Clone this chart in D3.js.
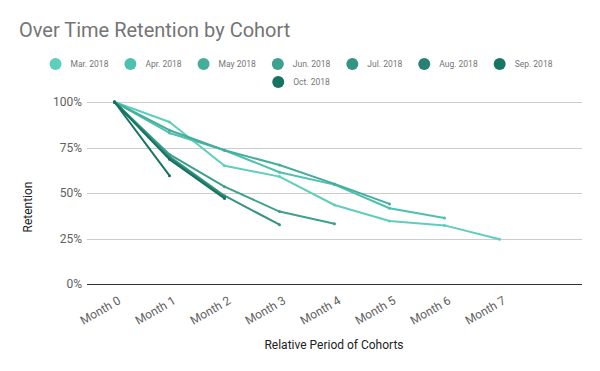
<!DOCTYPE html>
<meta charset="utf-8">
<head>
  <title>Over Time Retention by Cohort</title>
</head>

<style>
body {
  margin: 0;
  font-family: Roboto, "Noto Sans", sans-serif;
  background: #fff;
}

.title {
  font-size: 20px;
  fill: #757575;
}

.legend text {
  font-size: 8.5px;
  fill: #757575;
}

.grid line {
  stroke: #cccccc;
  stroke-width: 1;
}

.baseline {
  stroke: #333;
  stroke-width: 1;
}

.tick-label {
  font-size: 12px;
  fill: #616161;
}

.axis-title {
  font-size: 12px;
  fill: #222;
}

.series path {
  fill: none;
  stroke-width: 2;
  stroke-linejoin: round;
}
</style>

<body>
  <svg width="600" height="371"></svg>

  <script src="https://cdnjs.cloudflare.com/ajax/libs/d3/7.8.5/d3.min.js"></script>

  <script>
var months = ['Month 0', 'Month 1', 'Month 2', 'Month 3', 'Month 4', 'Month 5', 'Month 6', 'Month 7'];
var cohorts = ['Mar. 2018', 'Apr. 2018', 'May 2018', 'Jun. 2018', 'Jul. 2018', 'Aug. 2018', 'Sep. 2018', 'Oct. 2018'];
var colors = ['#5ecebd', '#4ec0ad', '#45ad9c', '#3ea08f', '#359384', '#268370', '#177563', '#167361'];

// retention per cohort, Month 0 onwards
var marValues = [1, 0.89, 0.65, 0.59, 0.434, 0.346, 0.322, 0.246];
var aprValues = [1, 0.83, 0.735, 0.614, 0.546, 0.416, 0.363];
var mayValues = [1, 0.845, 0.735, 0.654, 0.55, 0.44];
var junValues = [1, 0.712, 0.535, 0.398, 0.331];
var julValues = [1, 0.70, 0.485, 0.326];
var augValues = [1, 0.69, 0.476];
var sepValues = [1, 0.685, 0.47];
var octValues = [1, 0.595];

var series = [marValues, aprValues, mayValues, junValues, julValues, augValues, sepValues, octValues];
var yTicks = [0, 0.25, 0.5, 0.75, 1];

var svg = d3.select('svg');

var x = d3.scaleLinear().domain([-0.5, 8.5]).range([87, 582]);
var y = d3.scaleLinear().domain([0, 1]).range([284, 102]);

// title
svg.append('text')
  .attr('class', 'title')
  .attr('x', 19)
  .attr('y', 37)
  .text('Over Time Retention by Cohort');

// legend, two centred rows
var legend = svg.append('g').attr('class', 'legend');
var rows = [cohorts.slice(0, 7), cohorts.slice(7)];
rows.forEach(function(row, r) {
  var g = legend.append('g');
  var cursor = 0;
  row.forEach(function(name) {
    var i = cohorts.indexOf(name);
    g.append('circle')
      .attr('cx', cursor + 6)
      .attr('cy', 0)
      .attr('r', 6)
      .attr('fill', colors[i]);
    var t = g.append('text')
      .attr('x', cursor + 21)
      .attr('y', 3.2)
      .text(name);
    cursor += 21 + t.node().getComputedTextLength() + 16;
  });
  var w = cursor - 16;
  g.attr('transform', 'translate(' + (300 - w / 2 + 1) + ',' + (64 + r * 18) + ')');
});

// grid
svg.append('g')
  .attr('class', 'grid')
  .selectAll('line')
  .data(yTicks.filter(function(d) { return d > 0; }))
  .join('line')
  .attr('x1', x.range()[0])
  .attr('x2', x.range()[1])
  .attr('y1', function(d) { return Math.round(y(d)) + 0.5; })
  .attr('y2', function(d) { return Math.round(y(d)) + 0.5; });

svg.append('line')
  .attr('class', 'baseline')
  .attr('x1', x.range()[0])
  .attr('x2', x.range()[1])
  .attr('y1', y(0) + 0.5)
  .attr('y2', y(0) + 0.5);

// y tick labels
svg.append('g')
  .selectAll('text')
  .data(yTicks)
  .join('text')
  .attr('class', 'tick-label')
  .attr('x', 82)
  .attr('y', function(d) { return y(d) + 4; })
  .attr('text-anchor', 'end')
  .text(d3.format('.0%'));

// x tick labels, slanted
svg.append('g')
  .selectAll('text')
  .data(months)
  .join('text')
  .attr('class', 'tick-label')
  .attr('text-anchor', 'end')
  .attr('transform', function(d, i) {
    return 'translate(' + (x(i) + 7) + ',' + 303 + ') rotate(-30)';
  })
  .text(function(d) { return d; });

// axis titles
svg.append('text')
  .attr('class', 'axis-title')
  .attr('x', 334)
  .attr('y', 349)
  .attr('text-anchor', 'middle')
  .text('Relative Period of Cohorts');

svg.append('text')
  .attr('class', 'axis-title')
  .attr('transform', 'translate(32,207) rotate(-90)')
  .attr('text-anchor', 'middle')
  .text('Retention');

// lines
var line = d3.line()
  .x(function(d, i) { return x(i); })
  .y(function(d) { return y(d); });

var g = svg.append('g').attr('class', 'series');
series.forEach(function(values, k) {
  g.append('path')
    .attr('d', line(values))
    .attr('stroke', colors[k]);
  g.selectAll(null)
    .data(values)
    .enter()
    .append('circle')
    .attr('cx', function(d, i) { return x(i); })
    .attr('cy', function(d) { return y(d); })
    .attr('r', 1.5)
    .attr('fill', colors[k]);
});
  </script>
</body>
</html>
